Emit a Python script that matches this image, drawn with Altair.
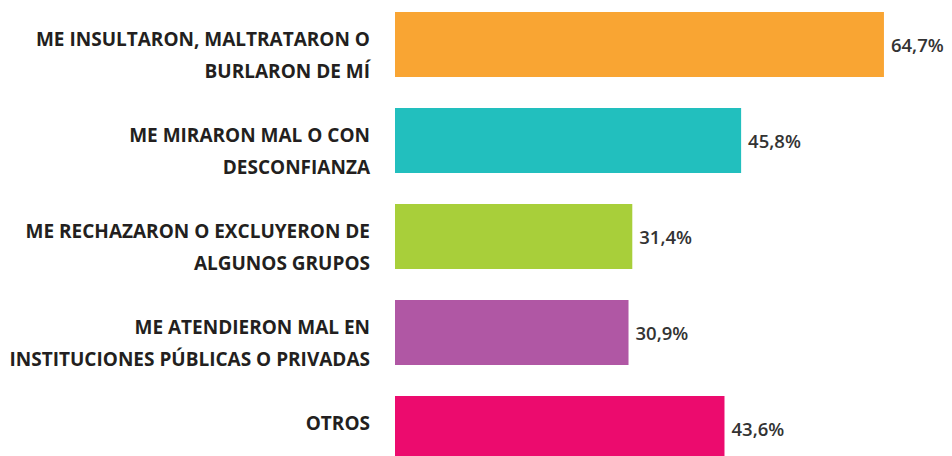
import altair as alt
import pandas as pd

categories = ["c1", "c2", "c3", "c4", "c5"]
line1 = ["ME INSULTARON, MALTRATARON O", "ME MIRARON MAL O CON",
         "ME RECHAZARON O EXCLUYERON DE", "ME ATENDIERON MAL EN", "OTROS"]
line2 = ["BURLARON DE MÍ", "DESCONFIANZA", "ALGUNOS GRUPOS",
         "INSTITUCIONES PÚBLICAS O PRIVADAS", ""]
values = [64.7, 45.8, 31.4, 30.9, 43.6]
value_labels = ["64,7%", "45,8%", "31,4%", "30,9%", "43,6%"]
colors = ["#F9A533", "#22BFBE", "#A8CF3A", "#B057A4", "#EC0B6E"]

df = pd.DataFrame({
    "cat": categories,
    "l1": line1,
    "l2": line2,
    "v": values,
    "lab": value_labels,
})

y = alt.Y("cat:N", sort=categories, axis=None,
          scale=alt.Scale(range=[0, 449], paddingInner=31 / 96, paddingOuter=0))
x = alt.X("v:Q", axis=None, scale=alt.Scale(domain=[0, 70], nice=False))

bars = alt.Chart(df).mark_bar(clip=False).encode(
    x=x, y=y,
    color=alt.Color("cat:N", scale=alt.Scale(domain=categories, range=colors), legend=None),
)

vals = alt.Chart(df).mark_text(
    align="left", baseline="middle", dx=7, dy=1,
    font="Open Sans", fontSize=18.5, fontWeight=600, color="#333333",
).encode(x=x, y=y, text="lab:N")

lab1 = alt.Chart(df).mark_text(
    align="right", baseline="middle", dy=-5,
    font="Open Sans", fontSize=19, fontWeight="bold", color="#231F20",
).encode(x=alt.value(-25), y=y, text="l1:N")

lab2 = alt.Chart(df).mark_text(
    align="right", baseline="middle", dy=27,
    font="Open Sans", fontSize=19, fontWeight="bold", color="#231F20",
).encode(x=alt.value(-25), y=y, text="l2:N")

chart = alt.layer(bars, vals, lab1, lab2).properties(
    width=529, height=444,
    autosize=alt.AutoSizeParams(type="none"),
    padding={"left": 387, "top": 4, "right": 20, "bottom": 0},
).configure_view(stroke=None)

chart.save("out.html", embed_options={"renderer": "svg", "actions": False})
